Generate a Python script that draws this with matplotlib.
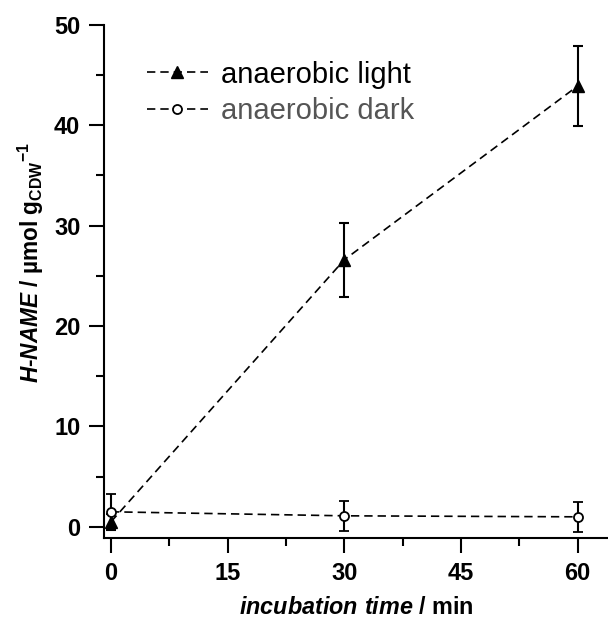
import matplotlib.pyplot as plt
from matplotlib.lines import Line2D
from matplotlib.ticker import MultipleLocator

plt.rcParams['font.family'] = 'Liberation Sans'
plt.rcParams['mathtext.fontset'] = 'custom'
plt.rcParams['mathtext.rm'] = 'Liberation Sans:bold'
plt.rcParams['mathtext.it'] = 'Liberation Sans:italic:bold'
plt.rcParams['mathtext.bf'] = 'Liberation Sans:bold'

time = [0, 30, 60]
light = [0.5, 26.6, 43.9]
light_err = [0.8, 3.7, 4.0]
dark = [1.5, 1.1, 1.0]
dark_err = [1.8, 1.5, 1.5]
labels = ['anaerobic light', 'anaerobic dark']

fig = plt.figure(figsize=(6.08, 6.19), dpi=100)
ax = fig.add_axes([0.171, 0.131, 0.829, 0.829])

dash = (0, (5, 3))
ax.errorbar(time, light, yerr=light_err, color='black', ls=dash, lw=1.2,
            marker='^', ms=8, mfc='black', capsize=3.8, elinewidth=1.5, capthick=1.5,
            zorder=3)
ax.errorbar(time, dark, yerr=dark_err, color='black', ls=dash, lw=1.2,
            marker='o', ms=6.5, mfc='white', mew=1.3, capsize=3.8, elinewidth=1.5,
            capthick=1.5, zorder=3)

ax.set_xlim(-0.9, 63.9)
ax.set_ylim(-1.1, 50)
ax.spines['top'].set_visible(False)
ax.spines['right'].set_visible(False)
for s in ['left', 'bottom']:
    ax.spines[s].set_linewidth(1.5)

ax.xaxis.set_major_locator(MultipleLocator(15))
ax.xaxis.set_minor_locator(MultipleLocator(7.5))
ax.yaxis.set_major_locator(MultipleLocator(10))
ax.yaxis.set_minor_locator(MultipleLocator(5))
ax.tick_params(which='major', direction='out', length=11, width=1.5, labelsize=17, pad=6)
ax.tick_params(which='minor', direction='out', length=5.5, width=1.5)
for lab in ax.get_xticklabels() + ax.get_yticklabels():
    lab.set_fontweight('bold')

ax.set_xlabel(r'$\mathit{incubation\ time}$ / min', fontsize=16.8, fontweight='bold', labelpad=8)
ax.set_ylabel(r'$\mathit{H}$-$\mathit{NAME}$ / µmol g$_{\mathrm{CDW}}$${}^{-1}$',
              fontsize=16.3, fontweight='bold')
ax.yaxis.set_label_coords(-0.115, 0.536)

handles = [
    Line2D([], [], color='black', ls=dash, lw=1.2, marker='^', ms=8, mfc='black'),
    Line2D([], [], color='black', ls=dash, lw=1.2, marker='o', ms=6.5, mfc='white', mew=1.3),
]
leg = ax.legend(handles, labels, loc='upper left', bbox_to_anchor=(0.085, 0.93),
                frameon=False, fontsize=21, handlelength=2.1, handletextpad=0.45,
                labelspacing=0.28, borderaxespad=0, borderpad=0)
leg.get_texts()[1].set_color('#555555')

fig.savefig('out.png', dpi=100)
